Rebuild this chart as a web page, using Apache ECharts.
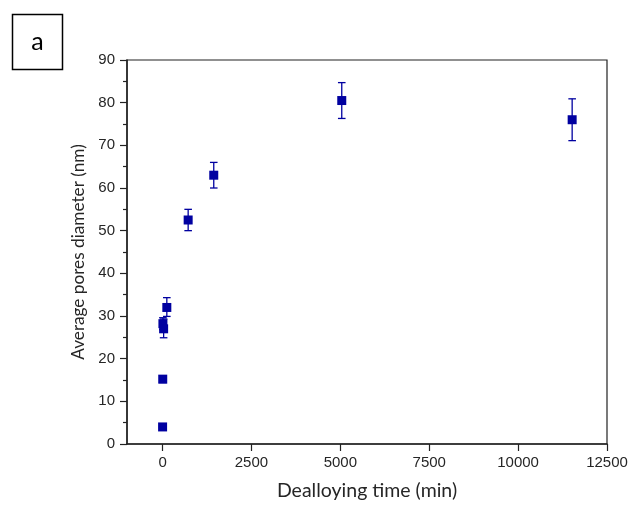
<!DOCTYPE html>
<html>
<head>
<meta charset="utf-8">
<script src="https://cdn.jsdelivr.net/npm/echarts@6/dist/echarts.min.js"></script>
<style>
html,body{margin:0;padding:0;background:#fff;}
#c{width:632px;height:506px;}
</style>
</head>
<body>
<div id="c"></div>
<script>
const times = [1, 5, 10, 30, 120, 720, 1440, 5040, 11520];
const diameters = [4.0, 15.2, 28.2, 27.0, 32.0, 52.5, 63.0, 80.5, 76.0];
const errLow = [3.8, 14.4, 26.8, 24.9, 29.9, 50.0, 60.0, 76.3, 71.1];
const errHigh = [4.2, 16.0, 29.6, 29.3, 34.3, 55.0, 66.0, 84.7, 80.9];
const xTicks = [0, 2500, 5000, 7500, 10000, 12500];
const yTicks = [0, 10, 20, 30, 40, 50, 60, 70, 80, 90];

const color = '#0000A0';
const chart = echarts.init(document.getElementById('c'));
const labelFont = {fontFamily: 'Liberation Sans, Arial, sans-serif', fontSize: 15, color: '#262626'};
const xTitleFont = {fontFamily: 'Lato, Carlito, sans-serif', fontSize: 19.5, color: '#262626'};
const yTitleFont = {fontFamily: 'Lato, Carlito, sans-serif', fontSize: 17.2, color: '#262626'};

chart.setOption({
  animation: false,
  backgroundColor: '#fff',
  grid: {left: 127, right: 25, top: 60, bottom: 60, show: true, borderColor: '#222', borderWidth: 1.2},
  graphic: [
    {type: 'rect', shape: {x: 12.5, y: 14.5, width: 50, height: 55}, style: {fill: '#fff', stroke: '#000', lineWidth: 1.5}},
    {type: 'text', x: 37.5, y: 42, style: {text: 'a', font: '25px Lato, Carlito, sans-serif', fill: '#000', textAlign: 'center', textVerticalAlign: 'middle'}}
  ],
  xAxis: {
    type: 'value', min: -1000, max: 12500,
    name: 'Dealloying time (min)', nameLocation: 'middle', nameGap: 37,
    nameTextStyle: xTitleFont,
    splitLine: {show: false},
    axisLine: {show: true, onZero: false, lineStyle: {color: '#222', width: 1.5}},
    axisTick: {show: true, inside: false, length: 7, customValues: xTicks, lineStyle: {color: '#222', width: 1.2}},
    axisLabel: {customValues: xTicks, margin: 11, ...labelFont, formatter: v => String(v), showMinLabel: true, showMaxLabel: true}
  },
  yAxis: {
    type: 'value', min: 0, max: 90, interval: 10,
    name: 'Average pores diameter (nm)', nameLocation: 'middle', nameGap: 39,
    nameTextStyle: yTitleFont,
    splitLine: {show: false},
    axisLine: {show: true, onZero: false, lineStyle: {color: '#222', width: 1.5}},
    axisTick: {show: true, inside: false, length: 7, lineStyle: {color: '#222', width: 1.2}},
    minorTick: {show: true, splitNumber: 2, length: 4, lineStyle: {color: '#222', width: 1.2}},
    axisLabel: {margin: 12, ...labelFont, formatter: v => yTicks.includes(v) ? String(v) : ''}
  },
  series: [
    {
      type: 'custom',
      data: times.map((t, i) => [t, errLow[i], errHigh[i]]),
      renderItem: function (params, api) {
        const lo = api.coord([api.value(0), api.value(1)]);
        const hi = api.coord([api.value(0), api.value(2)]);
        const w = 3.8;
        const st = {stroke: color, lineWidth: 1.3};
        return {type: 'group', children: [
          {type: 'line', shape: {x1: lo[0], y1: lo[1], x2: hi[0], y2: hi[1]}, style: st},
          {type: 'line', shape: {x1: lo[0] - w, y1: lo[1], x2: lo[0] + w, y2: lo[1]}, style: st},
          {type: 'line', shape: {x1: hi[0] - w, y1: hi[1], x2: hi[0] + w, y2: hi[1]}, style: st}
        ]};
      },
      z: 2
    },
    {
      type: 'scatter',
      data: times.map((t, i) => [t, diameters[i]]),
      symbol: 'rect', symbolSize: 9,
      itemStyle: {color: color, opacity: 1},
      z: 3
    }
  ]
});
</script>
</body>
</html>
